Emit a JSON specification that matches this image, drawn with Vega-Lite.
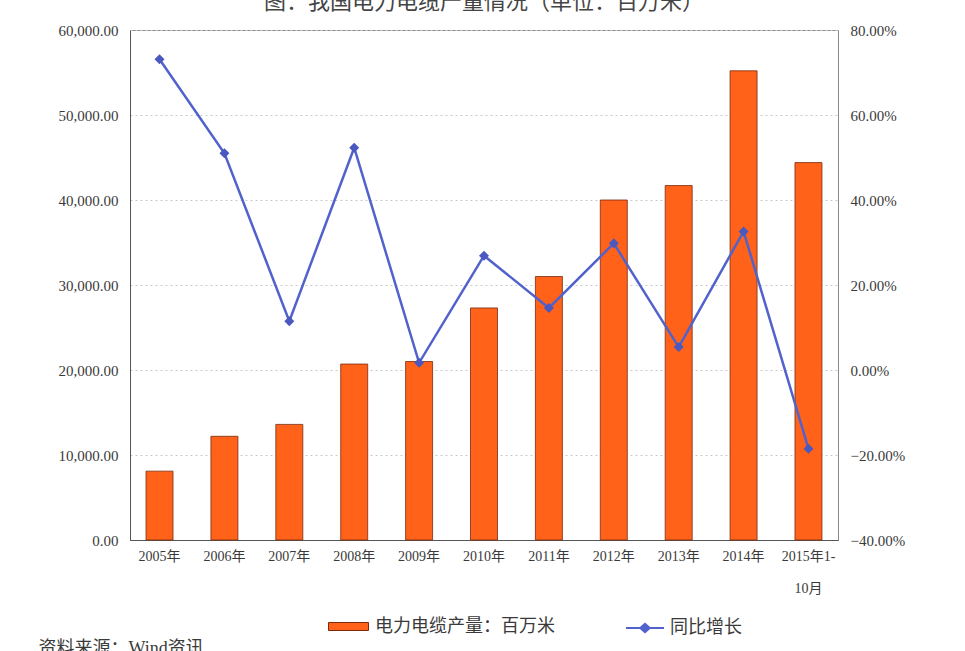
{
  "$schema": "https://vega.github.io/schema/vega-lite/v6.json",
  "autosize": "none",
  "width": 708,
  "height": 510,
  "padding": {"left": 130, "top": 30, "right": 127, "bottom": 111},
  "background": "white",
  "title": {
    "text": "图：我国电力电缆产量情况（单位：百万米）",
    "font": "Noto Sans CJK SC",
    "fontSize": 22,
    "fontWeight": "normal",
    "color": "#444444",
    "anchor": "middle",
    "offset": 9
  },
  "config": {
    "view": {"stroke": "#8a8a8a", "strokeWidth": 1},
    "axis": {
      "labelFont": "Liberation Serif, Noto Sans CJK SC",
      "labelColor": "#3a3a3a",
      "titleFont": "Liberation Serif, Noto Sans CJK SC"
    },
    "legend": {
      "labelFont": "Liberation Serif, Noto Sans CJK SC",
      "labelColor": "#3a3a3a",
      "labelFontSize": 18,
      "labelLimit": 400
    }
  },
  "data": {
    "values": [
      {"year": "2005年", "output": 8100, "growth": 0.731},
      {"year": "2006年", "output": 12200, "growth": 0.510},
      {"year": "2007年", "output": 13600, "growth": 0.115},
      {"year": "2008年", "output": 20700, "growth": 0.523},
      {"year": "2009年", "output": 21000, "growth": 0.017},
      {"year": "2010年", "output": 27300, "growth": 0.269},
      {"year": "2011年", "output": 31000, "growth": 0.146},
      {"year": "2012年", "output": 40000, "growth": 0.298},
      {"year": "2013年", "output": 41700, "growth": 0.054},
      {"year": "2014年", "output": 55200, "growth": 0.326},
      {"year": "2015年1-10月", "output": 44400, "growth": -0.185}
    ]
  },
  "encoding": {
    "x": {
      "field": "year",
      "type": "nominal",
      "sort": null,
      "scale": {"paddingInner": 0.584, "paddingOuter": 0.247},
      "axis": {
        "title": "资料来源：Wind资讯",
        "titleFontSize": 18,
        "titleFontWeight": "normal",
        "titleColor": "#3a3a3a",
        "titleAnchor": "start",
        "titleAlign": "left",
        "titleBaseline": "top",
        "titleX": -92,
        "titleY": 99,
        "labelAngle": 0,
        "labelFontSize": 14,
        "labelPadding": 9,
        "labelExpr": "datum.value == '2015年1-10月' ? ['2015年1-', '10月'] : datum.value",
        "labelLineHeight": 32,
        "ticks": false,
        "domainColor": "#555555"
      }
    }
  },
  "layer": [
    {
      "mark": {"type": "bar", "stroke": "#7a2a10", "strokeWidth": 0.8},
      "encoding": {
        "y": {
          "field": "output",
          "type": "quantitative",
          "scale": {"domain": [0, 60000]},
          "axis": {
            "title": null,
            "format": ",.2f",
            "values": [0, 10000, 20000, 30000, 40000, 50000, 60000],
            "labelFontSize": 15,
            "labelPadding": 12,
            "ticks": false,
            "domainColor": "#555555",
            "grid": true,
            "gridColor": "#c8c8c8",
            "gridDash": [2, 3]
          }
        },
        "fill": {
          "datum": "电力电缆产量：百万米",
          "type": "nominal",
          "scale": {"range": ["#ff6218"]},
          "legend": {
            "title": null,
            "orient": "none",
            "legendX": 198,
            "legendY": 576,
            "symbolType": "M-1,-0.2H1V0.2H-1Z",
            "symbolSize": 1600,
            "symbolStrokeColor": "#7a2a10",
            "symbolStrokeWidth": 1,
            "labelOffset": 6
          }
        }
      }
    },
    {
      "mark": {"type": "line", "strokeWidth": 2.5},
      "encoding": {
        "y": {
          "field": "growth",
          "type": "quantitative",
          "scale": {"domain": [-0.4, 0.8]},
          "axis": {
            "orient": "right",
            "title": null,
            "format": ".2%",
            "values": [-0.4, -0.2, 0, 0.2, 0.4, 0.6, 0.8],
            "labelFontSize": 15,
            "labelPadding": 12,
            "ticks": false,
            "domain": false,
            "grid": false
          }
        },
        "stroke": {
          "datum": "同比增长",
          "type": "nominal",
          "scale": {"range": ["#5262cc"]},
          "legend": {
            "title": null,
            "orient": "none",
            "legendX": 495,
            "legendY": 578,
            "symbolType": "M-1,0H1M-0.25,0L0,-0.22L0.25,0L0,0.22Z",
            "symbolSize": 1444,
            "symbolFillColor": "#5262cc",
            "symbolStrokeWidth": 2,
            "labelOffset": 5
          }
        }
      }
    },
    {
      "mark": {"type": "point", "shape": "diamond", "filled": true, "size": 100, "color": "#4a58c0", "opacity": 1},
      "encoding": {
        "y": {"field": "growth", "type": "quantitative", "scale": {"domain": [-0.4, 0.8]}, "axis": null}
      }
    }
  ],
  "resolve": {"scale": {"y": "independent"}}
}
